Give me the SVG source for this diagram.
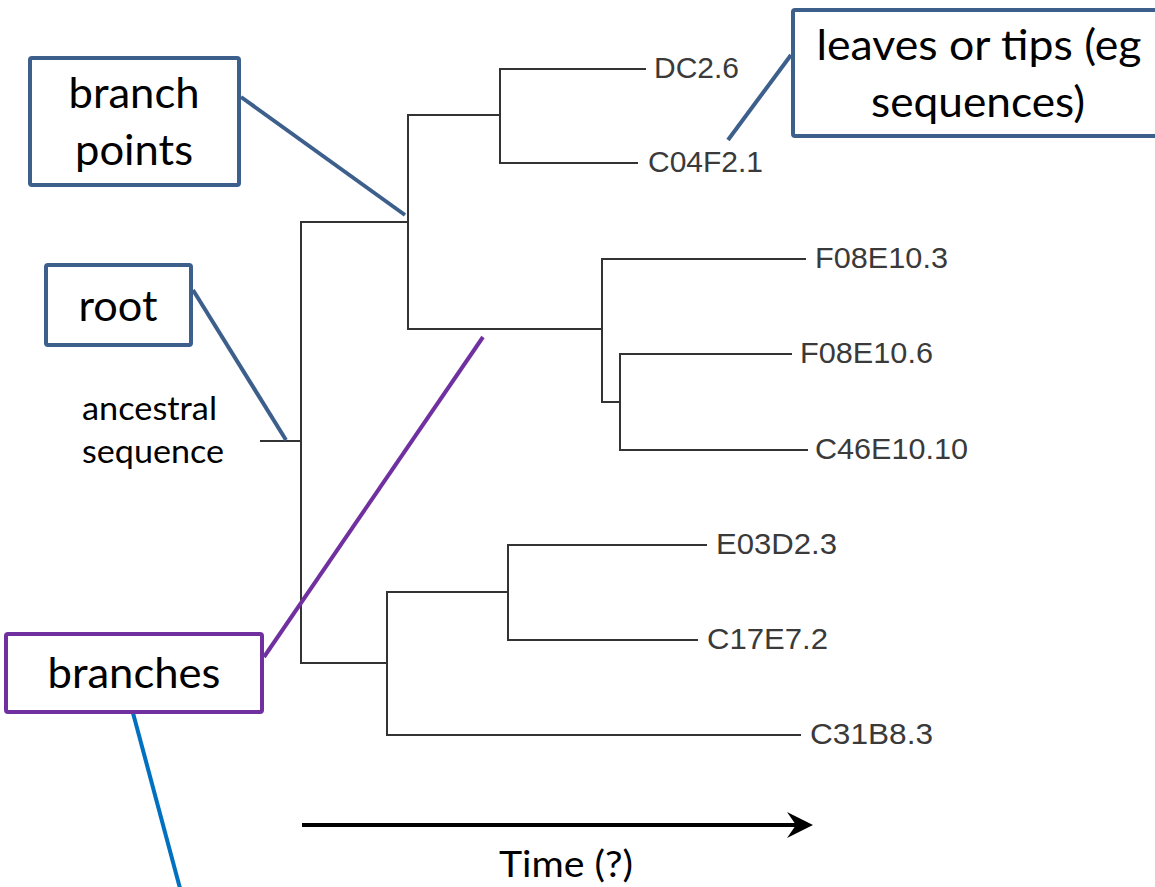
<svg xmlns="http://www.w3.org/2000/svg" width="1155" height="887" viewBox="0 0 1155 887">
<defs>
<style>
.tree{fill:none;stroke:#333;stroke-width:2;stroke-linecap:square}
.leaf{font-family:"Liberation Sans",Arial,sans-serif;font-size:29px;fill:#3a3a3a}
.big{font-family:Lato,"Open Sans",sans-serif;font-size:43px;fill:#000}
.box{fill:#fff;stroke:#3D5F8C;stroke-width:4}
.call{stroke-width:4;fill:none}
</style>
</defs>
<rect width="1155" height="887" fill="#fff"/>
<g id="connectors">
<g id="tree" class="tree">
<path d="M261,441H301M301,222V663M301,222H408M408,115V329M408,115H500M500,69V163M500,69H645M500,163H637"/>
<path d="M408,329H602M602,259V402M602,259H805M602,402H620M620,354V450M620,354H791M620,450H807"/>
<path d="M301,663H387M387,592V735M387,592H508M508,545V640M508,545H706M508,640H697M387,735H800"/>
</g>
<line class="call" x1="241" y1="97" x2="405" y2="215" stroke="#3D5F8C"/>
<line class="call" x1="791" y1="55" x2="728" y2="140" stroke="#3D5F8C"/>
<line class="call" x1="193" y1="290" x2="286" y2="440" stroke="#3D5F8C"/>
<line class="call" x1="264" y1="657" x2="483" y2="337" stroke="#7030A0"/>
<line class="call" x1="133" y1="713" x2="181" y2="892" stroke="#0070C0"/>
<g id="time-arrow">
<line x1="302" y1="825" x2="798" y2="825" stroke="#000" stroke-width="4"/>
<path d="M813,825L787,812L796,825L787,838Z" fill="#000"/>
</g>
</g>
<g id="leaves">
<text class="leaf" x="654" y="78" textLength="85" lengthAdjust="spacingAndGlyphs">DC2.6</text>
<text class="leaf" x="648" y="172" textLength="115" lengthAdjust="spacingAndGlyphs">C04F2.1</text>
<text class="leaf" x="815" y="268" textLength="133" lengthAdjust="spacingAndGlyphs">F08E10.3</text>
<text class="leaf" x="800" y="363" textLength="133" lengthAdjust="spacingAndGlyphs">F08E10.6</text>
<text class="leaf" x="815" y="459" textLength="153" lengthAdjust="spacingAndGlyphs">C46E10.10</text>
<text class="leaf" x="716" y="554" textLength="121" lengthAdjust="spacingAndGlyphs">E03D2.3</text>
<text class="leaf" x="707" y="649" textLength="121" lengthAdjust="spacingAndGlyphs">C17E7.2</text>
<text class="leaf" x="810" y="744" textLength="123" lengthAdjust="spacingAndGlyphs">C31B8.3</text>
</g>
<g id="branch-points">
<rect class="box" x="30" y="58" width="209" height="127" rx="2"/>
<text class="big" x="134" y="108" text-anchor="middle" textLength="131" lengthAdjust="spacingAndGlyphs">branch</text>
<text class="big" x="134" y="165" text-anchor="middle" textLength="118" lengthAdjust="spacingAndGlyphs">points</text>
</g>
<g id="leaves-or-tips">
<rect class="box" x="793" y="10" width="380" height="126" rx="2"/>
<text class="big" x="979" y="60" text-anchor="middle" textLength="325" lengthAdjust="spacingAndGlyphs">leaves or tips (eg</text>
<text class="big" x="978" y="117" text-anchor="middle" textLength="214" lengthAdjust="spacingAndGlyphs">sequences)</text>
</g>
<g id="root">
<rect class="box" x="46" y="265" width="145" height="80" rx="2"/>
<text class="big" x="118" y="321" text-anchor="middle" textLength="79" lengthAdjust="spacingAndGlyphs">root</text>
</g>
<g id="ancestral">
<text class="big" style="font-size:33px" x="82" y="420" textLength="135" lengthAdjust="spacingAndGlyphs">ancestral</text>
<text class="big" style="font-size:33px" x="82" y="463" textLength="142" lengthAdjust="spacingAndGlyphs">sequence</text>
</g>
<g id="branches">
<rect class="box" x="6" y="634" width="256" height="78" rx="2" style="stroke:#7030A0"/>
<text class="big" x="134" y="688" text-anchor="middle" textLength="173" lengthAdjust="spacingAndGlyphs">branches</text>
</g>
<g id="time">
<text class="big" style="font-size:36px" x="499" y="877" textLength="134" lengthAdjust="spacingAndGlyphs">Time (?)</text>
</g>
</svg>
